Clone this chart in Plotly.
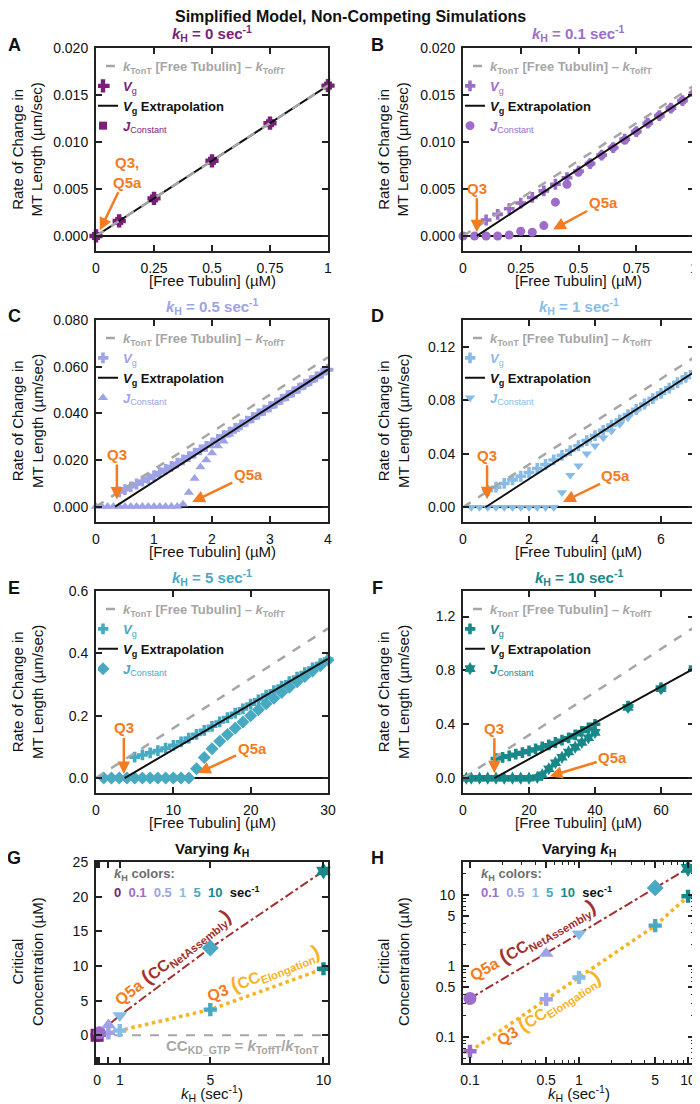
import plotly.graph_objects as go

FONT = "Arial, Liberation Sans, sans-serif"
W, H = 700, 1104
OFF = 8  # small shift so the panels land where the reference has them

# ---------------- data ----------------
kh_values = [0, 0.1, 0.5, 1, 5, 10]
kh_labels = ["0", "0.1", "0.5", "1", "5", "10"]
kh_colors = ["#7B1E7A", "#9D6DCB", "#9EA2E6", "#88BCE6", "#47A9C2", "#17898A"]
j_symbols = ["square", "circle", "triangle-up", "triangle-down", "diamond", "hexagram"]

# A: kH = 0
a_tub = [0, 0.1, 0.25, 0.5, 0.75, 1]
a_vg = [0, 0.0016, 0.004, 0.008, 0.012, 0.016]
a_j = [0, 0.0016, 0.004, 0.008, 0.012, 0.016]
a_ext_x, a_ext_y = [0, 1], [0, 0.016]
a_th_x, a_th_y = [0, 1], [0, 0.016]

# B: kH = 0.1
b_j_tub = [0, 0.05, 0.1, 0.15, 0.2, 0.25, 0.3, 0.35, 0.4, 0.45, 0.5, 0.55, 0.6, 0.65, 0.7,
           0.75, 0.8, 0.85, 0.9, 0.95, 1.0]
b_j = [0, 0, 0, 0, 0.0001, 0.0005, 0.0004, 0.0011, 0.0036, 0.0055, 0.0068, 0.0077, 0.0086,
       0.0094, 0.0102, 0.0111, 0.0120, 0.0128, 0.0136, 0.0144, 0.0152]
b_vg_tub = [0.1, 0.15, 0.2, 0.25, 0.3, 0.35, 0.4, 0.45, 0.5, 0.55, 0.6, 0.65, 0.7, 0.75, 0.8,
            0.85, 0.9, 0.95, 1.0]
b_vg = [0.0017, 0.0023, 0.0029, 0.0035, 0.0041, 0.0048, 0.0055, 0.0062, 0.0069, 0.0077, 0.0086,
        0.0094, 0.0103, 0.0111, 0.0120, 0.0128, 0.0136, 0.0144, 0.0152]
b_ext_x, b_ext_y = [0.06, 1], [0, 0.0152]
b_th_x, b_th_y = [0, 1], [0, 0.016]

# C: kH = 0.5
c_j_tub = [0.0, 0.1, 0.2, 0.3, 0.4, 0.5, 0.6, 0.7, 0.8, 0.9, 1.0, 1.1, 1.2, 1.3, 1.4, 1.5, 1.6,
           1.7, 1.8, 1.9, 2.0, 2.1, 2.2, 2.3, 2.4, 2.5, 2.6, 2.7, 2.8, 2.9, 3.0, 3.1, 3.2, 3.3,
           3.4, 3.5, 3.6, 3.7, 3.8, 3.9, 4.0]
c_j = [0, 0, 0, 0, 0, 0, 0, 0, 0, 0, 0, 0, 0, 0, 0,
       0.001, 0.006, 0.012, 0.017, 0.020, 0.023, 0.026, 0.028, 0.031, 0.033, 0.035,
       0.0366, 0.0381, 0.0397, 0.0413, 0.0428, 0.0444, 0.0460, 0.0476, 0.0492, 0.0508,
       0.0524, 0.0540, 0.0556, 0.0572, 0.0588]
c_vg_tub = [0.4, 0.5, 0.6, 0.7, 0.8, 0.9, 1.0, 1.1, 1.2, 1.3, 1.4, 1.5, 1.6, 1.7, 1.8, 1.9, 2.0,
            2.1, 2.2, 2.3, 2.4, 2.5, 2.6, 2.7, 2.8, 2.9, 3.0, 3.1, 3.2, 3.3, 3.4, 3.5, 3.6, 3.7,
            3.8, 3.9, 4.0]
c_vg = [0.0063, 0.0073, 0.0085, 0.0097, 0.0109, 0.0121, 0.0133, 0.0146, 0.0159, 0.0172,
        0.0186, 0.0200, 0.0214, 0.0229, 0.0243, 0.0258, 0.0273, 0.0288, 0.0304, 0.0319,
        0.0335, 0.0350, 0.0366, 0.0381, 0.0397, 0.0413, 0.0428, 0.0444, 0.0460, 0.0476,
        0.0492, 0.0508, 0.0524, 0.0540, 0.0556, 0.0572, 0.0588]
c_ext_x, c_ext_y = [0.33, 4], [0, 0.0588]
c_th_x, c_th_y = [0, 4], [0, 0.064]

# D: kH = 1
d_j_tub = [0.25, 0.5, 0.75, 1.0, 1.25, 1.5, 1.75, 2.0, 2.25, 2.5, 2.75, 3.0, 3.25, 3.5, 3.75,
           4.0, 4.25, 4.5, 4.75, 5.0, 5.25, 5.5, 5.75, 6.0, 6.25, 6.5, 6.75, 7.0]
d_j = [0, 0, 0, 0, 0, 0, 0, 0, 0, 0, 0, 0.011, 0.024, 0.031, 0.040, 0.046, 0.052, 0.057,
       0.062, 0.067, 0.072, 0.0765, 0.081, 0.085, 0.089, 0.093, 0.097, 0.101]
d_vg_tub = [0.75, 1.0, 1.25, 1.5, 1.75, 2.0, 2.25, 2.5, 2.75, 3.0, 3.25, 3.5, 3.75, 4.0, 4.25,
            4.5, 4.75, 5.0, 5.25, 5.5, 5.75, 6.0, 6.25, 6.5, 6.75, 7.0]
d_vg = [0.0125, 0.0150, 0.0178, 0.0205, 0.0232, 0.0260, 0.0290, 0.0320, 0.0354, 0.0388,
        0.0424, 0.0460, 0.0498, 0.0536, 0.0575, 0.0614, 0.0653, 0.0693, 0.0732, 0.0772,
        0.0812, 0.0852, 0.0891, 0.0931, 0.0971, 0.1011]
d_ext_x, d_ext_y = [0.68, 7], [0, 0.1011]
d_th_x, d_th_y = [0, 7], [0, 0.112]

# E: kH = 5
e_j_tub = [1, 2, 3, 4, 5, 6, 7, 8, 9, 10, 11, 12, 13, 14, 15, 16, 17, 18, 19, 20, 21, 22, 23,
           24, 25, 26, 27, 28, 29, 30]
e_j = [0, 0, 0, 0, 0, 0, 0, 0, 0, 0, 0, 0, 0.030, 0.066, 0.094, 0.118, 0.140, 0.160, 0.180,
       0.200, 0.219, 0.238, 0.256, 0.274, 0.291, 0.309, 0.326, 0.343, 0.360, 0.378]
e_vg_tub = [5, 6, 7, 8, 9, 10, 11, 12, 13, 14, 15, 16, 17, 18, 19, 20, 21, 22, 23, 24, 25, 26,
            27, 28, 29, 30]
e_vg = [0.067, 0.074, 0.081, 0.088, 0.096, 0.105, 0.116, 0.128, 0.140, 0.153, 0.166, 0.180,
        0.194, 0.208, 0.222, 0.237, 0.251, 0.266, 0.280, 0.295, 0.309, 0.324, 0.338, 0.353,
        0.367, 0.382]
e_ext_x, e_ext_y = [3.7, 30], [0, 0.382]
e_th_x, e_th_y = [0, 30], [0, 0.48]

# F: kH = 10
f_j_tub = [1, 2.5, 5, 7.5, 10, 12.5, 15, 17.5, 20, 22.5, 24, 26, 28, 30, 32, 34, 36, 38, 40,
           50, 60, 70]
f_j = [0, 0, 0, 0, 0, 0, 0, 0, 0, 0.005, 0.025, 0.07, 0.115, 0.155, 0.195, 0.23, 0.265, 0.30,
       0.34, 0.525, 0.665, 0.815]
f_vg_tub = [10, 12, 14, 16, 18, 20, 22, 24, 26, 28, 30, 32, 34, 36, 38, 40, 50, 60, 70]
f_vg = [0.145, 0.155, 0.166, 0.178, 0.190, 0.203, 0.217, 0.232, 0.248, 0.265, 0.282, 0.300,
        0.322, 0.347, 0.373, 0.400, 0.535, 0.670, 0.815]
f_ext_x, f_ext_y = [9.5, 70], [0, 0.815]
f_th_x, f_th_y = [0, 70], [0, 1.12]

# G/H: critical concentrations vs kH
cc_net_assembly = [0, 0.35, 1.5, 2.85, 12.6, 23.7]
cc_elongation = [0, 0.063, 0.34, 0.69, 3.7, 9.6]
cc_kd_x, cc_kd_y = [-0.05, 10.2], [0, 0]

# ---------------- styling ----------------
ORANGE = "#F47B20"
BROWN = "#A3302E"
GOLD = "#F8B225"
GRAY = "#A6A6A6"

COLS = [(96, 328), (463, 694)]
ROWS = [(48, 251), (320, 522), (591, 793), (862, 1063)]


def fx(px):
    return (px - OFF) / W


def fy(py):
    return 1 - (py - OFF) / H


def xdom(c):
    return [fx(COLS[c][0]), fx(COLS[c][1])]


def ydom(r):
    return [fy(ROWS[r][1]), fy(ROWS[r][0])]


def axis(**kw):
    d = dict(showline=True, linecolor="#222", linewidth=2, mirror="ticks", ticks="inside",
             ticklen=6, tickwidth=1.5, tickcolor="#222", showgrid=False, zeroline=False,
             tickfont=dict(size=14, color="#111", family=FONT), ticklabelstandoff=3)
    d.update(kw)
    return d


def label(px, py, text, size=15, color="#111", angle=0, xanchor="center"):
    return dict(x=fx(px), y=fy(py), xref="paper", yref="paper", showarrow=False,
                xanchor=xanchor, yanchor="middle", textangle=angle, text=text,
                font=dict(size=size, color=color, family=FONT))


panels = [
    dict(c=0, r=0, ci=0, jt=a_tub, j=a_j, vt=a_tub, vg=a_vg, ex=a_ext_x, ey=a_ext_y,
         tx=a_th_x, ty=a_th_y, xr=[0, 1], yr=[-0.0016, 0.02],
         xt=[0, 0.25, 0.5, 0.75, 1], xtt=["0", "0.25", "0.5", "0.75", "1"],
         yt=[0, 0.005, 0.01, 0.015, 0.02], yf=".3f", jsz=8, vsz=11),
    dict(c=1, r=0, ci=1, jt=b_j_tub, j=b_j, vt=b_vg_tub, vg=b_vg, ex=b_ext_x, ey=b_ext_y,
         tx=b_th_x, ty=b_th_y, xr=[0, 1], yr=[-0.0016, 0.02],
         xt=[0, 0.25, 0.5, 0.75, 1], xtt=["0", "0.25", "0.5", "0.75", "1"],
         yt=[0, 0.005, 0.01, 0.015, 0.02], yf=".3f", jsz=9, vsz=9),
    dict(c=0, r=1, ci=2, jt=c_j_tub, j=c_j, vt=c_vg_tub, vg=c_vg, ex=c_ext_x, ey=c_ext_y,
         tx=c_th_x, ty=c_th_y, xr=[0, 4], yr=[-0.0066, 0.08],
         xt=[0, 1, 2, 3, 4], xtt=None, yt=[0, 0.02, 0.04, 0.06, 0.08], yf=".3f", jsz=9, vsz=9),
    dict(c=1, r=1, ci=3, jt=d_j_tub, j=d_j, vt=d_vg_tub, vg=d_vg, ex=d_ext_x, ey=d_ext_y,
         tx=d_th_x, ty=d_th_y, xr=[0, 7], yr=[-0.011, 0.14],
         xt=[0, 2, 4, 6], xtt=None, yt=[0, 0.04, 0.08, 0.12], yf=".2f", jsz=9, vsz=9),
    dict(c=0, r=2, ci=4, jt=e_j_tub, j=e_j, vt=e_vg_tub, vg=e_vg, ex=e_ext_x, ey=e_ext_y,
         tx=e_th_x, ty=e_th_y, xr=[0, 30], yr=[-0.048, 0.6],
         xt=[0, 10, 20, 30], xtt=None, yt=[0, 0.2, 0.4, 0.6], yf=".1f", jsz=10, vsz=9),
    dict(c=1, r=2, ci=5, jt=f_j_tub, j=f_j, vt=f_vg_tub, vg=f_vg, ex=f_ext_x, ey=f_ext_y,
         tx=f_th_x, ty=f_th_y, xr=[0, 70], yr=[-0.11, 1.39],
         xt=[0, 20, 40, 60], xtt=None, yt=[0, 0.4, 0.8, 1.2], yf=".1f", jsz=10, vsz=9),
]

fig = go.Figure()
layout = {}
annotations = []

for n, p in enumerate(panels, start=1):
    s = "" if n == 1 else str(n)
    xa, ya = "x" + s, "y" + s
    lg = "legend" + s
    col = kh_colors[p["ci"]]

    fig.add_trace(go.Scatter(
        x=p["jt"], y=p["j"], xaxis=xa, yaxis=ya, mode="markers", legend=lg, legendrank=4,
        name=f'<span style="color:{col}"><b><i>J</i></b><sub>Constant</sub></span>',
        marker=dict(symbol=j_symbols[p["ci"]], size=p["jsz"], color=col, line=dict(width=0)),
        cliponaxis=False,
    ))
    fig.add_trace(go.Scatter(
        x=p["vt"], y=p["vg"], xaxis=xa, yaxis=ya, mode="markers", legend=lg, legendrank=2,
        name=f'<span style="color:{col}"><b><i>V</i></b><sub>g</sub></span>',
        marker=dict(symbol="cross", size=p["vsz"], color=col, line=dict(width=0)),
        cliponaxis=False,
    ))
    fig.add_trace(go.Scatter(
        x=p["ex"], y=p["ey"], xaxis=xa, yaxis=ya, mode="lines", legend=lg, legendrank=3,
        name="<b><i>V</i><sub>g</sub> Extrapolation</b>",
        line=dict(color="#111", width=2),
    ))
    fig.add_trace(go.Scatter(
        x=p["tx"], y=p["ty"], xaxis=xa, yaxis=ya, mode="lines", legend=lg, legendrank=1,
        name=(f'<span style="color:{GRAY}"><b><i>k</i><sub>TonT</sub> [Free Tubulin] – '
              f'<i>k</i><sub>ToffT</sub></b></span>'),
        line=dict(color=GRAY, width=2.5, dash="dash"),
    ))

    xd, yd = xdom(p["c"]), ydom(p["r"])
    xkw = dict(domain=xd, anchor=ya, range=p["xr"], tickvals=p["xt"])
    if p["xtt"]:
        xkw["ticktext"] = p["xtt"]
    layout["xaxis" + s] = axis(**xkw)
    layout["yaxis" + s] = axis(domain=yd, anchor=xa, range=p["yr"], tickvals=p["yt"],
                               tickformat=p["yf"], zeroline=True, zerolinecolor="#111",
                               zerolinewidth=1.5)
    layout[lg] = dict(x=xd[0] + 2 / W, y=yd[1] - 3 / H, xanchor="left", yanchor="top",
                      bgcolor="rgba(0,0,0,0)", font=dict(size=13, family=FONT),
                      itemwidth=30, tracegroupgap=0, traceorder="normal", indentation=-15)

    cx = (COLS[p["c"]][0] + COLS[p["c"]][1]) / 2
    annotations.append(label(cx, ROWS[p["r"]][0] - 14,
                             f'<b><i>k</i><sub>H</sub> = {kh_labels[p["ci"]]} sec<sup>-1</sup></b>',
                             color=col))

# ---- panels G and H ----
for n, c, logx in [(7, 0, False), (8, 1, True)]:
    s = str(n)
    xa, ya = "x" + s, "y" + s
    kx = kh_values if not logx else kh_values[1:]
    net = cc_net_assembly if not logx else cc_net_assembly[1:]
    elo = cc_elongation if not logx else cc_elongation[1:]
    cols = kh_colors if not logx else kh_colors[1:]
    syms = j_symbols if not logx else j_symbols[1:]
    labs = kh_labels if not logx else kh_labels[1:]

    if not logx:
        fig.add_trace(go.Scatter(x=cc_kd_x, y=cc_kd_y, xaxis=xa, yaxis=ya, mode="lines",
                                 showlegend=False, line=dict(color=GRAY, width=2, dash="dash")))
    fig.add_trace(go.Scatter(x=kx, y=net, xaxis=xa, yaxis=ya, mode="lines", showlegend=False,
                             line=dict(color=BROWN, width=2, dash="dashdot")))
    fig.add_trace(go.Scatter(x=kx, y=elo, xaxis=xa, yaxis=ya, mode="lines", showlegend=False,
                             line=dict(color=GOLD, width=3.5, dash="dot")))
    fig.add_trace(go.Scatter(x=kx, y=elo, xaxis=xa, yaxis=ya, mode="markers", showlegend=False,
                             cliponaxis=False,
                             marker=dict(symbol="cross", size=11, color=cols, line=dict(width=0))))
    fig.add_trace(go.Scatter(x=kx, y=net, xaxis=xa, yaxis=ya, mode="markers", showlegend=False,
                             cliponaxis=False,
                             marker=dict(symbol=syms, size=13, color=cols, line=dict(width=0))))

    xd, yd = xdom(c), ydom(3)
    if not logx:
        layout["xaxis" + s] = axis(domain=xd, anchor=ya, range=[-0.05, 10.2],
                                   tickvals=[0, 0.1, 0.5, 1, 5, 10],
                                   ticktext=["0", "", "", "1", "5", "10"])
        layout["yaxis" + s] = axis(domain=yd, anchor=xa, range=[-4, 25],
                                   tickvals=[0, 5, 10, 15, 20, 25])
    else:
        minor_x = [0.2, 0.3, 0.4, 0.6, 0.7, 0.8, 0.9, 2, 3, 4, 6, 7, 8, 9]
        minor_y = [0.05, 0.06, 0.07, 0.08, 0.09, 0.2, 0.3, 0.4, 0.6, 0.7, 0.8, 0.9,
                   2, 3, 4, 6, 7, 8, 9, 20]
        layout["xaxis" + s] = axis(domain=xd, anchor=ya, type="log", range=[-1.064, 1.055],
                                   tickvals=[0.1, 0.5, 1, 5, 10],
                                   ticktext=["0.1", "0.5", "1", "5", "10"],
                                   minor=dict(tickvals=minor_x, ticks="inside", ticklen=3,
                                              tickcolor="#222", tickwidth=1))
        layout["yaxis" + s] = axis(domain=yd, anchor=xa, type="log", range=[-1.366, 1.465],
                                   tickvals=[0.1, 0.5, 1, 5, 10],
                                   ticktext=["0.1", "0.5", "1", "5", "10"],
                                   minor=dict(tickvals=minor_y, ticks="inside", ticklen=3,
                                              tickcolor="#222", tickwidth=1))

    cx = (COLS[c][0] + COLS[c][1]) / 2
    annotations.append(label(cx, 849, "<b>Varying <i>k</i><sub>H</sub></b>"))
    left = COLS[c][0] + 16
    annotations.append(label(left, 874, "<b><i>k</i><sub>H</sub> colors:</b>", size=13,
                             color="#6E6E6E", xanchor="left"))
    parts = [f'<span style="color:{cc}">{lab}</span>' for cc, lab in zip(cols, labs)]
    annotations.append(label(left, 892,
                             "<b>" + "&nbsp; ".join(parts) + "&nbsp; sec<sup>-1</sup></b>",
                             size=13, xanchor="left"))

# rotated CC labels
big_open = '<span style="font-size:20px">(</span>'
big_close = '<span style="font-size:20px">)</span>'
net_txt = (f'<b><span style="color:{ORANGE}">Q5a</span> <span style="color:{BROWN}">'
           f'{big_open}CC<sub>NetAssembly</sub>{big_close}</span></b>')
elo_txt = (f'<b><span style="color:{ORANGE}">Q3</span> <span style="color:{GOLD}">'
           f'{big_open}CC<sub>Elongation</sub>{big_close}</span></b>')
for (px, py, ang, txt) in [(172, 957, -38, net_txt), (263, 973, -22, elo_txt),
                           (532, 940, -30, net_txt), (548, 1008, -33, elo_txt)]:
    annotations.append(label(px, py, txt, size=16, angle=ang))
annotations.append(label(242, 1046, ("<b>CC<sub>KD_GTP</sub> = <i>k</i><sub>ToffT</sub>/"
                                     "<i>k</i><sub>TonT</sub></b>"), color=GRAY))

# Q3 / Q5a arrows: (axis suffix, tip x, tip y, dx, dy, text)
arrows = [
    ("", 0.017, 0.0006, 28, -58, "Q3,<br>Q5a"),
    ("2", 0.06, 0.0004, 0, -44, "Q3"),
    ("2", 0.39, 0.0007, 50, -27, "Q5a"),
    ("3", 0.36, 0.003, 0, -45, "Q3"),
    ("3", 1.66, 0.002, 56, -27, "Q5a"),
    ("4", 0.73, 0.006, 0, -44, "Q3"),
    ("4", 3.03, 0.004, 53, -26, "Q5a"),
    ("5", 3.6, 0.013, 0, -46, "Q3"),
    ("5", 13.2, 0.016, 54, -25, "Q5a"),
    ("6", 9.5, 0.037, 0, -45, "Q3"),
    ("6", 26.3, 0.015, 63, -19, "Q5a"),
]
for s, x, y, dx, dy, t in arrows:
    annotations.append(dict(x=x, y=y, xref="x" + s, yref="y" + s, ax=dx, ay=dy, text=f"<b>{t}</b>",
                            showarrow=True, arrowhead=2, arrowsize=1, arrowwidth=2.5,
                            arrowcolor=ORANGE, font=dict(size=15, color=ORANGE, family=FONT)))

# axis titles and panel letters
for c in (0, 1):
    cx = (COLS[c][0] + COLS[c][1]) / 2
    ytx = 27 if c == 0 else 393
    for r in range(3):
        annotations.append(label(cx, ROWS[r][1] + 29, "[Free Tubulin] (µM)"))
        annotations.append(label(ytx, (ROWS[r][0] + ROWS[r][1]) / 2,
                                 "Rate of Change in<br>MT Length (µm/sec)", angle=-90))
    annotations.append(label(cx, 1093, "<i>k</i><sub>H</sub> (sec<sup>-1</sup>)"))
    annotations.append(label(ytx, 962, "Critical<br>Concentration (µM)", angle=-90))

for letter, px, py in [("A", 14, 45), ("B", 377, 45), ("C", 14, 316), ("D", 377, 316),
                       ("E", 14, 588), ("F", 377, 588), ("G", 14, 858), ("H", 377, 858)]:
    annotations.append(label(px, py, f"<b>{letter}</b>", size=18))

annotations.append(label(350, 17, "<b>Simplified Model, Non-Competing Simulations</b>", size=16))

fig.update_layout(
    width=W, height=H,
    margin=dict(l=0, r=0, t=0, b=0, autoexpand=False),
    paper_bgcolor="white", plot_bgcolor="white",
    font=dict(family=FONT, color="#111"),
    annotations=annotations,
    **layout,
)

fig.write_html("out.html")
